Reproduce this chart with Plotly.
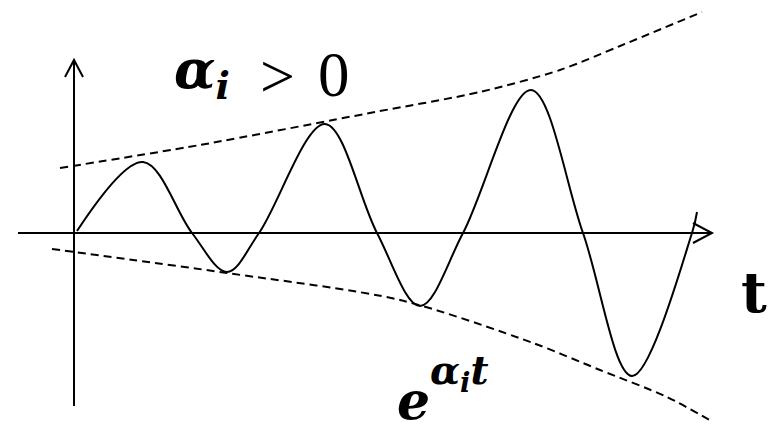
import plotly.graph_objects as go

# Canvas geometry: horizontal axis sits at y = 0, values increase upwards.
W, H = 771, 425
AXIS_Y_PX = 233

# Oscillation with growing amplitude: start, extremes, zero crossings, end
wave_t = [77, 143, 192, 227, 259, 325, 377, 420, 463, 531, 583, 632, 692, 697]
wave_y = [2, 71, 0, -39, 0, 109, 0, -73, 0, 143, 0, -143, 0, 21]

# Upper envelope  +e^{α_i t}
upper_t = [60, 200, 375, 480, 560, 620, 702]
upper_y = [65, 88, 121, 141, 163, 187, 221]

# Lower envelope  -e^{α_i t}
lower_t = [52, 133, 227, 400, 533, 600, 667, 713]
lower_y = [-16, -27, -40, -67, -110, -137, -164, -189]

# Axes extents
x_axis = (18, 712)
y_axis = (-173, 173)
axis_x = 74

INK = "black"
MATH_FONT = "DejaVu Serif"
TEXT_FONT = "Liberation Serif"

fig = go.Figure()

for tt, yy in ((upper_t, upper_y), (lower_t, lower_y)):
    fig.add_trace(go.Scatter(x=tt, y=yy, mode="lines",
                             line=dict(color=INK, width=2, dash="8px,5px",
                                       shape="spline", smoothing=0.8),
                             hoverinfo="skip"))

fig.add_trace(go.Scatter(x=wave_t, y=wave_y, mode="lines",
                         line=dict(color=INK, width=2, shape="spline", smoothing=1.0),
                         hoverinfo="skip"))

# Coordinate axes with open arrow heads
ax_line = dict(color=INK, width=2)
fig.add_shape(type="line", x0=x_axis[0], x1=x_axis[1], y0=0, y1=0, line=ax_line)
fig.add_shape(type="line", x0=axis_x, x1=axis_x, y0=y_axis[0], y1=y_axis[1], line=ax_line)
hx = x_axis[1]
fig.add_shape(type="path", path=f"M {hx-19},10 L {hx},0 L {hx-19},-10", line=ax_line)
vy = y_axis[1]
fig.add_shape(type="path", path=f"M {axis_x-9},{vy-17} L {axis_x},{vy} L {axis_x+9},{vy-17}",
              line=ax_line)

# Labels: α_i > 0
fig.add_annotation(x=172, y=AXIS_Y_PX - 72, xanchor="left", yanchor="middle",
                   text="<b><i>α</i></b><sub><b><i>i</i></b></sub>",
                   showarrow=False, font=dict(family=MATH_FONT, size=54, color=INK))
fig.add_annotation(x=277, y=AXIS_Y_PX - 76, xanchor="center", yanchor="middle",
                   text=">", showarrow=False,
                   font=dict(family=TEXT_FONT, size=62, color=INK))
fig.add_annotation(x=334, y=AXIS_Y_PX - 75, xanchor="center", yanchor="middle",
                   text="0", showarrow=False,
                   font=dict(family=TEXT_FONT, size=63, color=INK))
# Time label
fig.add_annotation(x=754, y=AXIS_Y_PX - 292, xanchor="center", yanchor="middle",
                   text="<b>t</b>", showarrow=False,
                   font=dict(family=MATH_FONT, size=56, color=INK))
# Envelope label e^{α_i t}
fig.add_annotation(x=395, y=AXIS_Y_PX - 400, xanchor="left", yanchor="middle",
                   text="<b><i>e</i></b>", showarrow=False,
                   font=dict(family=MATH_FONT, size=52, color=INK))
fig.add_annotation(x=428, y=AXIS_Y_PX - 372, xanchor="left", yanchor="middle",
                   text="<b><i>α</i></b><sub><b><i>i</i></b></sub><b><i>t</i></b>",
                   showarrow=False, font=dict(family=MATH_FONT, size=39, color=INK))

fig.update_layout(
    width=W, height=H, margin=dict(l=0, r=0, t=0, b=0),
    paper_bgcolor="white", plot_bgcolor="white", showlegend=False,
    xaxis=dict(range=[0, W], visible=False, fixedrange=True),
    yaxis=dict(range=[AXIS_Y_PX - H, AXIS_Y_PX], visible=False, fixedrange=True),
)

fig.write_html("out.html")
